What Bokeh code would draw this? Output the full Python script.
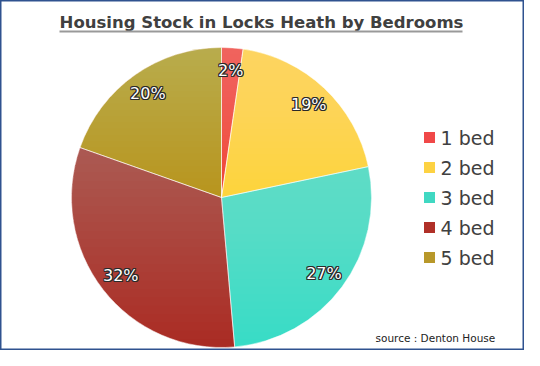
import math
import numpy as np
from bokeh.plotting import figure
from bokeh.models import ColumnDataSource
from bokeh.core.properties import value
from bokeh.embed import file_html
from bokeh.resources import INLINE

# ---- data ----
categories = ["1 bed", "2 bed", "3 bed", "4 bed", "5 bed"]
shares = [2.3, 19.4, 26.9, 31.8, 19.6]
slice_colors = ["#F04034", "#FDD43A", "#36DCC6", "#A82A22", "#B8941C"]
legend_colors = ["#F04848", "#FDD242", "#40D8C2", "#B03028", "#B8982A"]
title_text = "Housing Stock in Locks Heath by Bedrooms"
source_text = "source : Denton House"

W, H = 524, 350
FONT = "DejaVu Sans"
TXT = "#404040"

p = figure(width=W, height=H, x_range=(0, W), y_range=(0, H),
           output_backend="svg", toolbar_location=None,
           x_axis_type=None, y_axis_type=None, min_border=0)
p.grid.visible = False
p.outline_line_color = "#2F528F"
p.outline_line_width = 2
p.background_fill_color = "white"
p.border_fill_color = "white"

cx, cy, R = 221, 153, 150
total = sum(shares)
starts, ends, lx, ly, labels = [], [], [], [], []
cum = 0.0
for v in shares:
    a0 = math.pi / 2 - 2 * math.pi * cum / total
    cum += v
    a1 = math.pi / 2 - 2 * math.pi * cum / total
    starts.append(a0)
    ends.append(a1)
    mid = (a0 + a1) / 2
    lx.append(cx + 0.85 * R * math.cos(mid))
    ly.append(cy + 0.85 * R * math.sin(mid))
    labels.append(f"{round(v)}%")

src = ColumnDataSource(dict(start=starts, end=ends, color=slice_colors,
                            cat=categories, lx=lx, ly=ly, label=labels))
p.wedge(x=cx, y=cy, radius=R, start_angle="start", end_angle="end",
        direction="clock", fill_color="color", line_color=None, source=src)


# per-slice vertical light gradient (decorative overlay)
def clip_above(xs, ys, level):
    ox, oy = [], []
    n = len(xs)
    for i in range(n):
        x1, y1 = xs[i], ys[i]
        x2, y2 = xs[(i + 1) % n], ys[(i + 1) % n]
        in1, in2 = y1 >= level, y2 >= level
        if in1:
            ox.append(x1); oy.append(y1)
        if in1 != in2:
            t = (level - y1) / (y2 - y1)
            ox.append(x1 + t * (x2 - x1)); oy.append(level)
    return ox, oy


gx, gy = [], []
steps = 24
for a0, a1 in zip(starts, ends):
    ang = np.linspace(a0, a1, 120)
    xs = [cx] + list(cx + R * np.cos(ang))
    ys = [cy] + list(cy + R * np.sin(ang))
    ytop, ybot = max(ys), min(ys)
    for k in range(1, steps + 1):
        level = ytop - (ytop - ybot) * k / steps
        ox, oy = clip_above(xs, ys, level)
        if len(ox) >= 3:
            gx.append(ox); gy.append(oy)
p.patches(xs=gx, ys=gy, fill_color="white", fill_alpha=0.012, line_color=None)

p.wedge(x=cx, y=cy, radius=R, start_angle="start", end_angle="end",
        direction="clock", fill_color=None, line_color="white",
        line_alpha=0.5, line_width=1, source=src)

# labels with dark outline
for dx, dy in [(-1, 0), (1, 0), (0, -1), (0, 1), (-1, -1), (1, 1), (-1, 1), (1, -1)]:
    p.text(x="lx", y="ly", text="label", source=src, text_color="#2a2a2a",
           text_font=value(FONT), text_font_size="16px", text_align="center",
           text_baseline="middle", x_offset=dx, y_offset=dy)
p.text(x="lx", y="ly", text="label", source=src, text_color="white",
       text_font=value(FONT), text_font_size="16px", text_align="center",
       text_baseline="middle")

# title
p.text(x=[261], y=[328], text=[title_text], text_color=TXT,
       text_font=value(FONT), text_font_style="bold", text_font_size="16.5px",
       text_align="center", text_baseline="middle")
p.segment(x0=[59], y0=[319], x1=[462], y1=[319], line_color="#999999", line_width=2)

# legend
leg_y = [213 - 30 * i for i in range(len(categories))]
p.rect(x=[429] * len(categories), y=leg_y, width=11, height=11,
       fill_color=legend_colors, line_color=None)
p.text(x=[440] * len(categories), y=leg_y, text=categories, text_color=TXT,
       text_font=value(FONT), text_font_size="19px", text_baseline="middle")

# source
p.text(x=[375], y=[13], text=[source_text], text_color="#222222",
       text_font=value(FONT), text_font_size="10.5px", text_baseline="middle")

open("out.html", "w").write(file_html(p, INLINE))
